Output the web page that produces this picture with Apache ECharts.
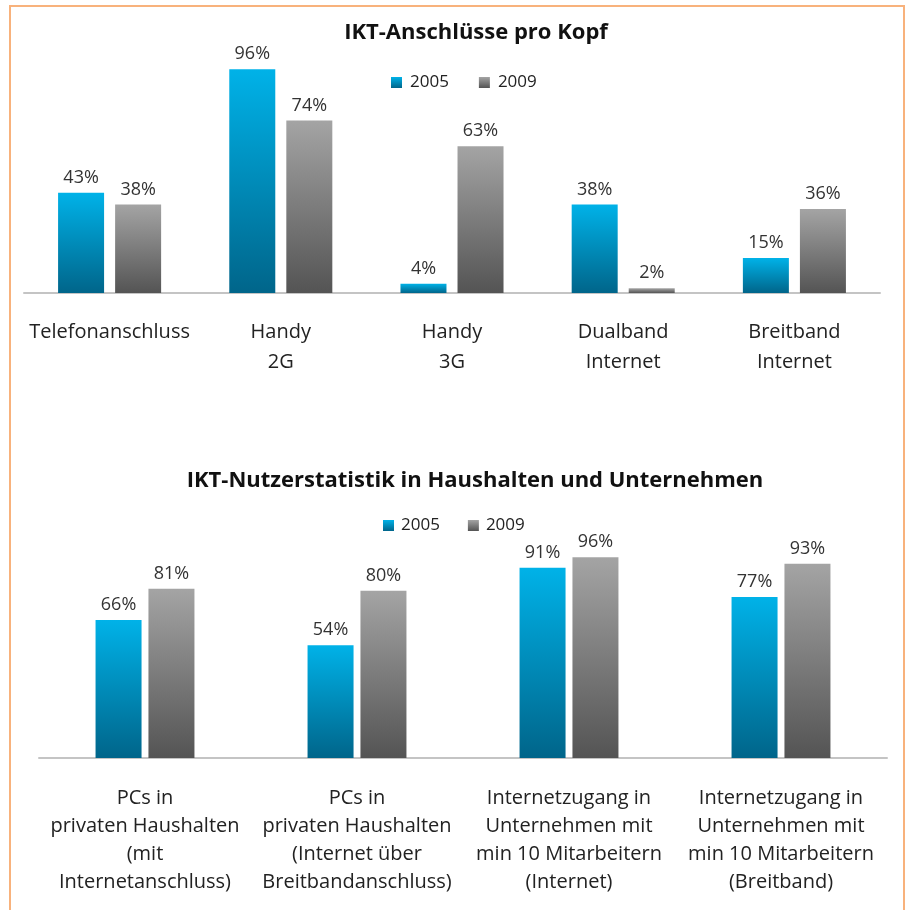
<!DOCTYPE html>
<html>
<head>
<meta charset="utf-8">
<script src="https://cdn.jsdelivr.net/npm/echarts@6/dist/echarts.min.js"></script>
<style>
  html, body { margin: 0; padding: 0; background: #fff; }
  #main { width: 909px; height: 910px; }
</style>
</head>
<body>
<div id="main"></div>
<script>
// Daten
const years = ['2005', '2009'];

const cats1 = ['Telefonanschluss', 'Handy\n2G', 'Handy\n3G', 'Dualband\nInternet', 'Breitband\nInternet'];
const vals1_2005 = [43, 96, 4, 38, 15];
const vals1_2009 = [38, 74, 63, 2, 36];

const cats2 = [
  'PCs in\nprivaten Haushalten\n(mit\nInternetanschluss)',
  'PCs in\nprivaten Haushalten\n(Internet über\nBreitbandanschluss)',
  'Internetzugang in\nUnternehmen mit\nmin 10 Mitarbeitern\n(Internet)',
  'Internetzugang in\nUnternehmen mit\nmin 10 Mitarbeitern\n(Breitband)'
];
const vals2_2005 = [66, 54, 91, 77];
const vals2_2009 = [81, 80, 96, 93];

const font = '"Open Sans", Lato, sans-serif';

function grad(top, bottom) {
  return new echarts.graphic.LinearGradient(0, 0, 0, 1, [
    { offset: 0, color: top },
    { offset: 1, color: bottom }
  ]);
}
const blue = grad('#00B2E8', '#00658A');
const gray = grad('#A4A4A4', '#545454');

var myChart = echarts.init(document.getElementById('main'));

function barSeries(name, data, idx, color, width, gap) {
  return {
    name: name,
    type: 'bar',
    xAxisIndex: idx,
    yAxisIndex: idx,
    data: data,
    barWidth: width,
    barGap: gap,
    itemStyle: { color: color },
    label: {
      show: true,
      position: 'top',
      distance: 6,
      formatter: '{c}%',
      color: '#333',
      fontSize: 18,
      fontFamily: font
    }
  };
}

var option = {
  animation: false,
  graphic: [{
    type: 'rect',
    shape: { x: 10, y: 6, width: 894, height: 920 },
    style: { fill: 'none', stroke: '#F8B27C', lineWidth: 2 }
  }],
  title: [
    {
      text: 'IKT-Anschlüsse pro Kopf',
      left: 471, top: 17, textAlign: 'center',
      textStyle: { fontFamily: font, fontWeight: 'bold', fontSize: 22, color: '#111' }
    },
    {
      text: 'IKT-Nutzerstatistik in Haushalten und Unternehmen',
      left: 470, top: 465, textAlign: 'center',
      textStyle: { fontFamily: font, fontWeight: 'bold', fontSize: 22, color: '#111' }
    }
  ],
  legend: [
    {
      data: years, left: 386, top: 69,
      itemWidth: 11, itemHeight: 11, itemGap: 30, icon: 'rect',
      selectedMode: false,
      textStyle: { fontFamily: font, fontSize: 17, color: '#222', padding: [0, 0, 0, 3] }
    },
    {
      data: years, left: 378, top: 512,
      itemWidth: 11, itemHeight: 11, itemGap: 28, icon: 'rect',
      selectedMode: false,
      textStyle: { fontFamily: font, fontSize: 17, color: '#222', padding: [0, 0, 0, 2] }
    }
  ],
  grid: [
    { left: 24, right: 29, top: 60, height: 233 },
    { left: 39, right: 22, top: 549, height: 209 }
  ],
  xAxis: [
    {
      type: 'category', gridIndex: 0, data: cats1,
      axisLine: { lineStyle: { color: '#C4C4C4', width: 2 } },
      axisTick: { show: false },
      axisLabel: { color: '#222', fontSize: 20, fontFamily: font, lineHeight: 30, margin: 24, interval: 0 }
    },
    {
      type: 'category', gridIndex: 1, data: cats2,
      axisLine: { lineStyle: { color: '#C4C4C4', width: 2 } },
      axisTick: { show: false },
      axisLabel: { color: '#222', fontSize: 20, fontFamily: font, lineHeight: 28, margin: 26, interval: 0 }
    }
  ],
  yAxis: [
    { type: 'value', gridIndex: 0, min: 0, max: 100, show: false },
    { type: 'value', gridIndex: 1, min: 0, max: 100, show: false }
  ],
  series: [
    barSeries('2005', vals1_2005, 0, blue, 46, '24%'),
    barSeries('2009', vals1_2009, 0, gray, 46, '24%'),
    barSeries('2005', vals2_2005, 1, blue, 46, '15%'),
    barSeries('2009', vals2_2009, 1, gray, 46, '15%')
  ]
};
myChart.setOption(option);
</script>
</body>
</html>
